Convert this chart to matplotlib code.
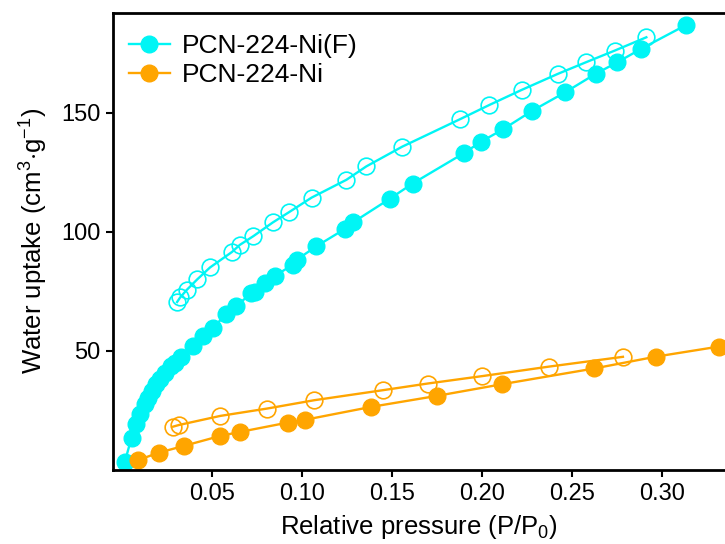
import matplotlib
matplotlib.use('Agg')
import matplotlib.pyplot as plt
from matplotlib import rcParams

# water uptake isotherms
ni_f_ads_x = [0.0016, 0.0053, 0.0077, 0.0099, 0.0127, 0.0145, 0.0164, 0.0188, 0.021, 0.0238,
              0.0274, 0.0293, 0.033, 0.0395, 0.045, 0.0506, 0.058, 0.0635, 0.0718, 0.0738,
              0.0794, 0.085, 0.095, 0.097, 0.108, 0.1237, 0.1283, 0.1487, 0.1614, 0.19,
              0.1995, 0.2115, 0.228, 0.2462, 0.2632, 0.2752, 0.2885, 0.3135]
ni_f_ads_y = [3.5, 13.6, 19.2, 23.4, 27.6, 30.4, 33.2, 36.0, 38.1, 40.5,
              43.7, 45.1, 47.5, 52.1, 56.3, 59.8, 65.4, 68.9, 74.1, 74.5,
              78.5, 81.5, 86.2, 88.2, 93.9, 101.1, 103.9, 113.8, 120.2, 133.0,
              137.8, 142.9, 150.8, 158.5, 166.3, 171.1, 176.8, 186.8]
ni_f_des_x = [0.2913, 0.2737, 0.2577, 0.2423, 0.222, 0.2041, 0.188, 0.1557, 0.1357, 0.1247,
              0.1053, 0.093, 0.0838, 0.0729, 0.0655, 0.0611, 0.0489, 0.0418, 0.036, 0.0323,
              0.0306]
ni_f_des_y = [181.6, 176.0, 171.1, 166.3, 159.5, 153.2, 147.3, 135.7, 127.4, 121.8,
              114.3, 108.3, 103.9, 98.1, 94.5, 91.5, 85.0, 80.0, 75.6, 72.4,
              70.5]

ni_ads_x = [0.009, 0.0206, 0.0343, 0.0546, 0.0657, 0.0921, 0.1019, 0.1385, 0.1749, 0.2111,
            0.2623, 0.2968, 0.3316]
ni_ads_y = [4.2, 7.3, 10.1, 14.3, 16.0, 19.9, 21.1, 26.5, 31.1, 36.0,
            42.6, 47.6, 51.8]
ni_des_x = [0.2783, 0.2373, 0.2001, 0.1699, 0.145, 0.1069, 0.0807, 0.0546, 0.0317, 0.0284]
ni_des_y = [47.5, 43.4, 39.4, 36.3, 33.5, 29.3, 25.8, 22.7, 18.9, 18.2]

xticks = [0.05, 0.10, 0.15, 0.20, 0.25, 0.30]
yticks = [50, 100, 150]

cyan = '#00F5F5'
orange = '#FFA500'

rcParams['font.family'] = ['Liberation Sans', 'DejaVu Sans']
rcParams['mathtext.fontset'] = 'custom'
rcParams['mathtext.rm'] = 'Liberation Sans'
rcParams['mathtext.it'] = 'Liberation Sans:italic'

fig = plt.figure(figsize=(7.25, 5.44), dpi=100)
ax = fig.add_axes([113/725., 1 - 470/544., 612/725., 457.5/544.])

ms = 12
lw = 1.7
ax.plot(ni_f_ads_x, ni_f_ads_y, '-o', color=cyan, ms=ms, lw=lw, label='PCN-224-Ni(F)')
ax.plot(ni_f_des_x, ni_f_des_y, '-o', color=cyan, ms=ms, lw=lw, mfc='none', mew=1.2)
ax.plot(ni_ads_x, ni_ads_y, '-o', color=orange, ms=ms, lw=lw, label='PCN-224-Ni')
ax.plot(ni_des_x, ni_des_y, '-o', color=orange, ms=ms, lw=lw, mfc='none', mew=1.2)

ax.set_xlim(-0.005, 0.335)
ax.set_ylim(0, 192)
ax.set_xticks(xticks)
ax.set_xticklabels(['%.2f' % v for v in xticks])
ax.set_yticks(yticks)

for s in ['left', 'bottom', 'top']:
    ax.spines[s].set_linewidth(2)
ax.spines['right'].set_visible(False)
ax.tick_params(direction='out', length=5, width=1.5, labelsize=17, pad=4)

ax.set_xlabel('Relative pressure (P/P$_{0}$)', fontsize=18.5, labelpad=6)
ax.set_ylabel('Water uptake (cm$^{3}$$\\cdot$g$^{-1}$)', fontsize=18.5, labelpad=8)

ax.legend(loc='upper left', bbox_to_anchor=(0.026, 0.953), frameon=False, fontsize=19,
          borderpad=0, borderaxespad=0, handlelength=1.55, handletextpad=0.45,
          labelspacing=0.2)

plt.savefig('out.png', dpi=100)
